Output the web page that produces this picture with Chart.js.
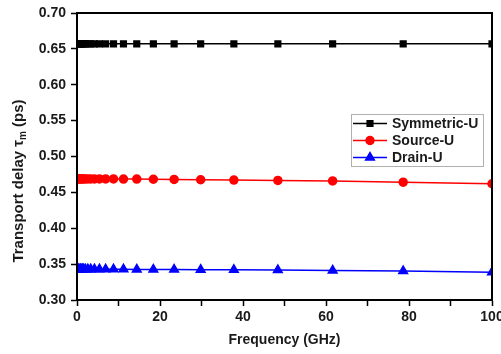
<!DOCTYPE html>
<html>
<head>
<meta charset="utf-8">
<script src="https://cdn.jsdelivr.net/npm/chart.js@4/dist/chart.umd.min.js"></script>
<style>
  html, body { margin: 0; padding: 0; background: #fff; }
  #wrap { width: 501px; height: 354px; }
</style>
</head>
<body>
<div id="wrap"><canvas id="delayChart" width="501" height="354"></canvas></div>
<script>
// Transport delay vs frequency, three U-shaped layouts
const freqGHz = [0.1, 0.3, 0.5, 0.8, 1.0, 1.3, 1.6, 2.0, 2.6, 3.3, 4.2, 5.4, 6.9, 8.8,
                 11.2, 14.4, 18.4, 23.4, 29.8, 37.8, 48.4, 61.6, 78.6, 100];
const symmetricU = [0.657, 0.657, 0.657, 0.657, 0.657, 0.657, 0.657, 0.657, 0.657, 0.657, 0.657, 0.657, 0.657, 0.657,
                    0.657, 0.657, 0.657, 0.657, 0.657, 0.657, 0.657, 0.657, 0.657, 0.657];
const sourceU = [0.4688, 0.4688, 0.4688, 0.4688, 0.4688, 0.4688, 0.4688, 0.4688, 0.4688, 0.4688, 0.4688, 0.4687, 0.4687, 0.4687,
                 0.4686, 0.4685, 0.4683, 0.4680, 0.4676, 0.4672, 0.4667, 0.4659, 0.4642, 0.4620];
const drainU = [0.3430, 0.3430, 0.3430, 0.3430, 0.3430, 0.3430, 0.3430, 0.3430, 0.3429, 0.3429, 0.3429, 0.3429, 0.3428, 0.3428,
                0.3427, 0.3426, 0.3425, 0.3424, 0.3422, 0.3420, 0.3417, 0.3412, 0.3404, 0.3388];
const seriesNames = ['Symmetric-U', 'Source-U', 'Drain-U'];

const FONT = 'Arial, "Liberation Sans", sans-serif';
const TXT = '#1a1a1a';

function pts(ys) {
  return freqGHz.map((x, i) => ({ x: x, y: ys[i] }));
}

// frame on top/right of the plot
const framePlugin = {
  id: 'frame',
  afterDraw(chart) {
    const { ctx, chartArea: a } = chart;
    ctx.save();
    ctx.strokeStyle = '#000';
    ctx.lineWidth = 2;
    ctx.strokeRect(a.left, a.top, a.right - a.left, a.bottom - a.top);
    ctx.restore();
  }
};

// axis titles (y one has a subscript m)
const titlesPlugin = {
  id: 'axisTitles',
  afterDraw(chart) {
    const ctx = chart.ctx;
    const a = chart.chartArea;
    ctx.save();
    ctx.fillStyle = TXT;
    ctx.textBaseline = 'middle';

    ctx.font = 'bold 14px ' + FONT;
    ctx.textAlign = 'center';
    ctx.fillText('Frequency (GHz)', (a.left + a.right) / 2, 340);

    ctx.textAlign = 'left';
    const p1 = 'Transport delay \u03C4', sub = 'm', p2 = ' (ps)';
    ctx.font = 'bold 15px ' + FONT;
    const w1 = ctx.measureText(p1).width, w2 = ctx.measureText(p2).width;
    ctx.font = 'bold 10px ' + FONT;
    const ws = ctx.measureText(sub).width;
    const total = w1 + ws + w2;
    ctx.translate(19, 181);
    ctx.rotate(-Math.PI / 2);
    let x = -total / 2;
    ctx.font = 'bold 15px ' + FONT;
    ctx.fillText(p1, x, 0); x += w1;
    ctx.font = 'bold 10px ' + FONT;
    ctx.fillText(sub, x, 4); x += ws;
    ctx.font = 'bold 15px ' + FONT;
    ctx.fillText(p2, x, 0);
    ctx.restore();
  }
};

// legend box inside the plot
const boxLegendPlugin = {
  id: 'boxLegend',
  afterDraw(chart) {
    const ctx = chart.ctx;
    const bx = 351, by = 114, bw = 132, bh = 52;
    ctx.save();
    ctx.fillStyle = '#fff';
    ctx.fillRect(bx, by, bw, bh);
    ctx.strokeStyle = '#b0b0b0';
    ctx.lineWidth = 1;
    ctx.strokeRect(bx + 0.5, by + 0.5, bw, bh);
    chart.data.datasets.forEach((ds, i) => {
      const y = 123.5 + i * 17;
      ctx.strokeStyle = ds.borderColor;
      ctx.lineWidth = 1.5;
      ctx.beginPath();
      ctx.moveTo(353, y);
      ctx.lineTo(387, y);
      ctx.stroke();
      Chart.helpers.drawPoint(ctx, {
        pointStyle: ds.pointStyle, radius: ds.pointRadius, borderWidth: 1
      }, 370, y);
      ctx.fillStyle = ds.borderColor;
      ctx.fill();
      ctx.fillStyle = TXT;
      ctx.font = 'bold 14px ' + FONT;
      ctx.textBaseline = 'middle';
      ctx.fillText(ds.label, 392, y + 0.5);
    });
    ctx.restore();
  }
};

function makeDs(label, ys, color, style, r) {
  return {
    label: label,
    data: pts(ys),
    borderColor: color,
    backgroundColor: color,
    pointBackgroundColor: color,
    pointBorderColor: color,
    pointStyle: style,
    pointRadius: r,
    borderWidth: 1.5,
    tension: 0
  };
}

new Chart(document.getElementById('delayChart'), {
  type: 'line',
  data: {
    datasets: [
      makeDs(seriesNames[0], symmetricU, '#000000', 'rect', 4),
      makeDs(seriesNames[1], sourceU, '#ff0000', 'circle', 4),
      makeDs(seriesNames[2], drainU, '#0000ff', 'triangle', 5)
    ]
  },
  options: {
    responsive: false,
    animation: false,
    layout: { padding: { left: 0, top: 13, right: 9, bottom: 0 } },
    plugins: {
      legend: { display: false },
      tooltip: { enabled: false }
    },
    scales: {
      x: {
        type: 'linear',
        min: 0, max: 100,
        afterFit(s) { s.height = 54; s.paddingLeft = 0; s.paddingRight = 0; },
        border: { display: true, color: '#000', width: 2 },
        grid: { drawOnChartArea: false, drawTicks: true, tickLength: 6, tickColor: '#000', tickWidth: 1.5 },
        ticks: {
          stepSize: 10,
          padding: 3,
          maxRotation: 0,
          color: TXT,
          font: { family: FONT, size: 14, weight: 'bold' },
          callback: v => (Math.round(v) % 20 === 0 ? String(v) : '')
        }
      },
      y: {
        min: 0.30, max: 0.70,
        afterFit(s) { s.width = 77; s.paddingTop = 0; s.paddingBottom = 0; },
        border: { display: true, color: '#000', width: 2 },
        grid: { drawOnChartArea: false, drawTicks: true, tickLength: 6, tickColor: '#000', tickWidth: 1.5 },
        ticks: {
          stepSize: 0.025,
          padding: 5,
          color: TXT,
          font: { family: FONT, size: 14, weight: 'bold' },
          callback: v => (Math.round(v * 1000) % 50 === 0 ? v.toFixed(2) : '')
        }
      }
    }
  },
  plugins: [framePlugin, titlesPlugin, boxLegendPlugin]
});
</script>
</body>
</html>
